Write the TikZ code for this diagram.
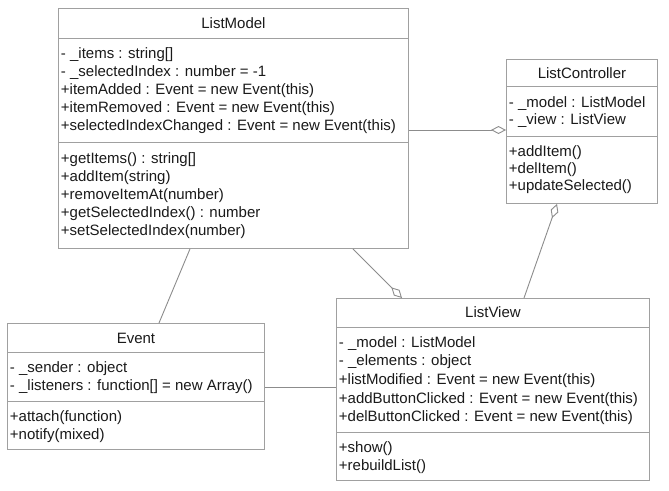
\documentclass[tikz,border=0pt]{standalone}
\usepackage{fontspec}
\setmainfont{Liberation Sans}
\usetikzlibrary{calc,arrows.meta}
\definecolor{boxline}{HTML}{A0A0A0}
\definecolor{linkline}{HTML}{8C8C8C}
\definecolor{membertext}{HTML}{1A1A1A}

\begin{document}
\begin{tikzpicture}[
    x=1pt, y=-1pt,
    line width=0.9pt,
    classbox/.style={draw=boxline, fill=white, anchor=north west, inner sep=0pt},
    classname/.style={text=membertext, inner sep=0pt, font=\fontsize{15}{18}\selectfont},
    member/.style={anchor=base west, inner sep=0pt, text=membertext, font=\fontsize{15}{18}\selectfont},
    divider/.style={draw=boxline},
    link/.style={draw=linkline},
    aggregation/.style={link, -{Diamond[open, length=15pt, width=8pt]}}
]

    % Page background and fixed bounding box
    \fill[white] (0,0) rectangle (669,490);
    \useasboundingbox (0,0) rectangle (669,490);

    % Class: ListModel
    \node[classbox, minimum width=350, minimum height=240] (listmodel) at (58,8) {};
    \draw[divider] ($(listmodel.north west)+(0,30)$) -- ($(listmodel.north east)+(0,30)$);
    \draw[divider] ($(listmodel.north west)+(0,134)$) -- ($(listmodel.north east)+(0,134)$);
    \node[classname] (listmodelname) at ($(listmodel.north)+(0,15)$) {ListModel};
    \foreach \row [count=\i from 0] in {- \_items : string[], - \_selectedIndex : number = -1,
        +itemAdded : Event = new Event(this), +itemRemoved : Event = new Event(this),
        +selectedIndexChanged : Event = new Event(this)}
        \node[member] (listmodelattr\i) at ($(listmodel.north west)+(2.5,50+18.2*\i)$) {\row};
    \foreach \row [count=\i from 0] in {+getItems() : string[], +addItem(string), +removeItemAt(number),
        +getSelectedIndex() : number, +setSelectedIndex(number)}
        \node[member] (listmodelop\i) at ($(listmodel.north west)+(2.5,155+18.2*\i)$) {\row};

    % Class: ListController
    \node[classbox, minimum width=151, minimum height=144] (listcontroller) at (506,59) {};
    \draw[divider] ($(listcontroller.north west)+(0,27)$) -- ($(listcontroller.north east)+(0,27)$);
    \draw[divider] ($(listcontroller.north west)+(0,77)$) -- ($(listcontroller.north east)+(0,77)$);
    \node[classname] (listcontrollername) at ($(listcontroller.north)+(0,14)$) {ListController};
    \foreach \row [count=\i from 0] in {- \_model : ListModel, - \_view : ListView}
        \node[member] (listcontrollerattr\i) at ($(listcontroller.north west)+(2.5,48+17.5*\i)$) {\row};
    \foreach \row [count=\i from 0] in {+addItem(), +delItem(), +updateSelected()}
        \node[member] (listcontrollerop\i) at ($(listcontroller.north west)+(2.5,97+17*\i)$) {\row};

    % Class: Event
    \node[classbox, minimum width=257, minimum height=126] (event) at (7,323) {};
    \draw[divider] ($(event.north west)+(0,29)$) -- ($(event.north east)+(0,29)$);
    \draw[divider] ($(event.north west)+(0,78)$) -- ($(event.north east)+(0,78)$);
    \node[classname] (eventname) at ($(event.north)+(0,15)$) {Event};
    \foreach \row [count=\i from 0] in {- \_sender : object, - \_listeners : function[] = new Array()}
        \node[member] (eventattr\i) at ($(event.north west)+(2.5,49+18.5*\i)$) {\row};
    \foreach \row [count=\i from 0] in {+attach(function), +notify(mixed)}
        \node[member] (eventop\i) at ($(event.north west)+(2.5,98+18.5*\i)$) {\row};

    % Class: ListView
    \node[classbox, minimum width=313, minimum height=182] (listview) at (336,298) {};
    \draw[divider] ($(listview.north west)+(0,29)$) -- ($(listview.north east)+(0,29)$);
    \draw[divider] ($(listview.north west)+(0,134)$) -- ($(listview.north east)+(0,134)$);
    \node[classname] (listviewname) at ($(listview.north)+(0,14)$) {ListView};
    \foreach \row [count=\i from 0] in {- \_model : ListModel, - \_elements : object,
        +listModified : Event = new Event(this), +addButtonClicked : Event = new Event(this),
        +delButtonClicked : Event = new Event(this)}
        \node[member] (listviewattr\i) at ($(listview.north west)+(2.5,49+18.7*\i)$) {\row};
    \foreach \row [count=\i from 0] in {+show(), +rebuildList()}
        \node[member] (listviewop\i) at ($(listview.north west)+(2.5,154+18.5*\i)$) {\row};

    % Associations
    \draw[link] ($(listmodel.south west)+(132,0)$) -- ($(event.north west)+(152,0)$);
    \draw[link] ($(event.north east)+(0,64)$) -- ($(listview.north west)+(0,89)$);

    % Aggregations (open diamond at the whole)
    \draw[aggregation] ($(listmodel.north east)+(0,122)$) -- ($(listcontroller.north west)+(0,71)$);
    \draw[aggregation] ($(listmodel.south west)+(295,0)$) -- ($(listview.north west)+(66,0)$);
    \draw[aggregation] ($(listview.north west)+(188,0)$) -- ($(listcontroller.south west)+(51,0)$);

\end{tikzpicture}
\end{document}
